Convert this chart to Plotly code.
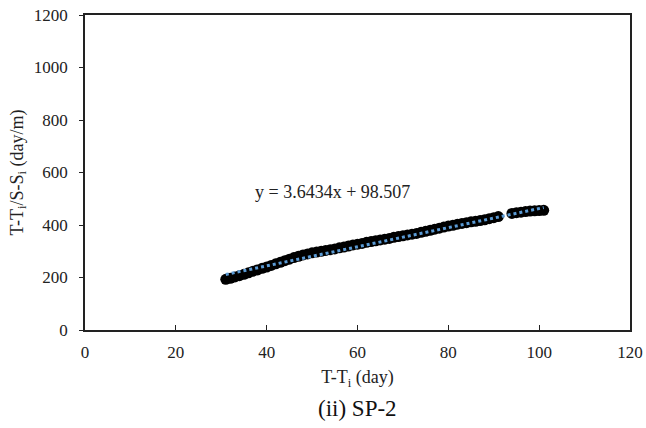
import plotly.graph_objects as go

# Observed data (T-Ti in days, (T-Ti)/(S-Si) in day/m)
days = [31, 32, 33, 34, 35, 36, 37, 38, 39, 40, 41, 42, 43, 44, 45, 46, 47, 48, 49, 50,
        51, 52, 53, 54, 55, 56, 57, 58, 59, 60, 61, 62, 63, 64, 65, 66, 67, 68, 69, 70,
        71, 72, 73, 74, 75, 76, 77, 78, 79, 80, 81, 82, 83, 84, 85, 86, 87, 88, 89, 90,
        91, 94, 95, 96, 97, 98, 99, 100, 101]
ratio = [193, 197, 202, 207, 212, 218, 224, 229, 235, 240, 246, 252, 258, 264, 270, 276, 281, 286, 290, 294,
         297, 300, 303, 306, 309, 313, 316, 320, 324, 327, 330, 334, 337, 340, 343, 346, 349, 353, 356, 359,
         362, 365, 368, 372, 376, 380, 384, 388, 392, 396, 399, 403, 406, 409, 412, 414, 417, 420, 424, 428,
         432, 444, 447, 449, 451, 453, 454, 455, 456]

# Linear trendline coefficients as printed on the chart
slope = 3.6434
intercept = 98.507
trend_x = [min(days), max(days)]
trend_y = [slope * x + intercept for x in trend_x]

x_ticks = [0, 20, 40, 60, 80, 100, 120]
y_ticks = [0, 200, 400, 600, 800, 1000, 1200]

FONT = "Liberation Serif, Times New Roman, serif"

fig = go.Figure()
fig.add_trace(go.Scatter(
    x=days, y=ratio, mode="markers",
    marker=dict(color="black", size=11, line=dict(width=0)),
    showlegend=False, hoverinfo="x+y"))
fig.add_trace(go.Scatter(
    x=trend_x, y=trend_y, mode="lines",
    line=dict(color="#5B9BD5", width=3, dash="3px,3px"),
    showlegend=False))

fig.add_annotation(x=54.6, y=526, xref="x", yref="y",
                   text="y = 3.6434x + 98.507", showarrow=False,
                   font=dict(family=FONT, size=18, color="#222"))
fig.add_annotation(x=0.5, y=-0.25, xref="paper", yref="paper",
                   text="(ii) SP-2", showarrow=False, yanchor="middle",
                   font=dict(family=FONT, size=23, color="#111"))

fig.update_layout(
    width=646, height=428,
    margin=dict(l=85, r=16, t=15, b=98),
    paper_bgcolor="white", plot_bgcolor="white",
    font=dict(family=FONT, size=17, color="#222"),
    xaxis=dict(range=[0, 120], tickvals=x_ticks, ticks="inside", ticklen=5,
               tickcolor="#222", showgrid=False, zeroline=False,
               showline=True, linecolor="#222", linewidth=1.5, mirror=True,
               ticklabelstandoff=6, automargin=False,
               tickfont=dict(family=FONT, size=17),
               title=dict(text="T-T<sub>i</sub> (day)", standoff=9,
                          font=dict(family=FONT, size=18))),
    yaxis=dict(range=[0, 1200], tickvals=y_ticks, ticks="outside", ticklen=4,
               tickcolor="#222", showgrid=False, zeroline=False,
               showline=True, linecolor="#222", linewidth=1.5, mirror=True,
               ticklabelstandoff=8, automargin=False,
               tickfont=dict(family=FONT, size=17),
               title=dict(text="T-T<sub>i</sub>/S-S<sub>i</sub> (day/m)", standoff=6,
                          font=dict(family=FONT, size=18))),
)

fig.write_html("out.html", config={"displayModeBar": False},
               post_script="document.body.style.margin='0';")
